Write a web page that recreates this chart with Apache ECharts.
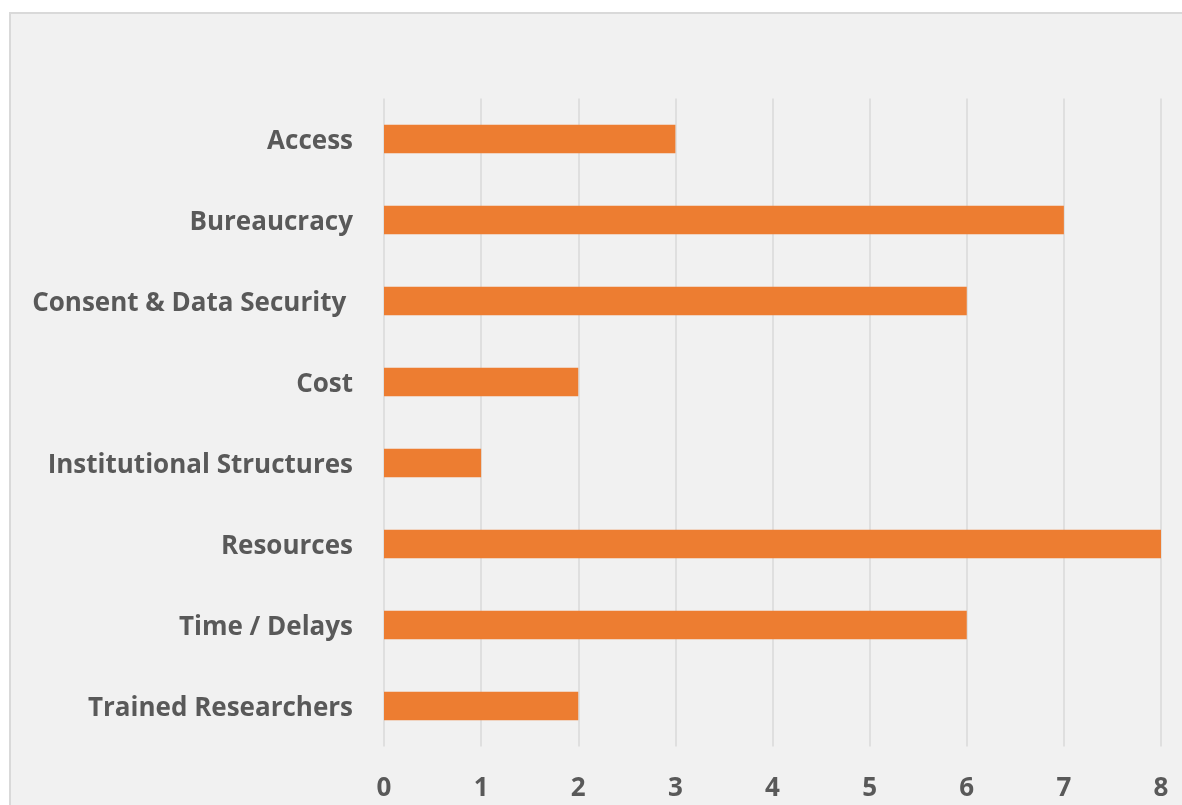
<!DOCTYPE html>
<html><head><meta charset="utf-8">
<script src="https://cdn.jsdelivr.net/npm/echarts@6/dist/echarts.min.js"></script>
<style>html,body{margin:0;padding:0;background:#fff;}#c{width:1182px;height:805px;}</style>
</head><body><div id="c"></div>
<script>
const categories = ['Access','Bureaucracy','Consent & Data Security ','Cost','Institutional Structures','Resources','Time / Delays','Trained Researchers'];
const values = [3,7,6,2,1,8,6,2];
const xTicks = [0,1,2,3,4,5,6,7,8];

const chart = echarts.init(document.getElementById('c'), null, {renderer:'canvas'});
const font = 'Open Sans';
chart.setOption({
  animation:false,
  backgroundColor:'#ffffff',
  graphic:[{type:'rect', z:-10, shape:{x:10,y:13,width:1200,height:820}, style:{fill:'#f1f1f1', stroke:'#d9d9d9', lineWidth:2}}],
  grid:{left:384, right:21, top:98.5, bottom:58.5, containLabel:false},
  xAxis:{type:'value', min:xTicks[0], max:xTicks[xTicks.length-1], interval:1,
    axisLine:{show:false}, axisTick:{show:false},
    splitLine:{show:true, lineStyle:{color:'#d9d9d9', width:1.5}},
    axisLabel:{color:'#595959', fontFamily:font, fontWeight:'bold', fontSize:26, margin:29}},
  yAxis:{type:'category', data:categories, inverse:true,
    axisLine:{show:false}, axisTick:{show:false}, splitLine:{show:false},
    axisLabel:{margin:31, formatter: v => '{a|' + v + '}',
      rich:{a:{color:'#595959', fontFamily:font, fontWeight:'bold', fontSize:26, padding:[6,0,0,0]}}}},
  series:[{type:'bar', data:values, barWidth:'35%', itemStyle:{color:'#ed7d31'}}]
});
</script></body></html>
